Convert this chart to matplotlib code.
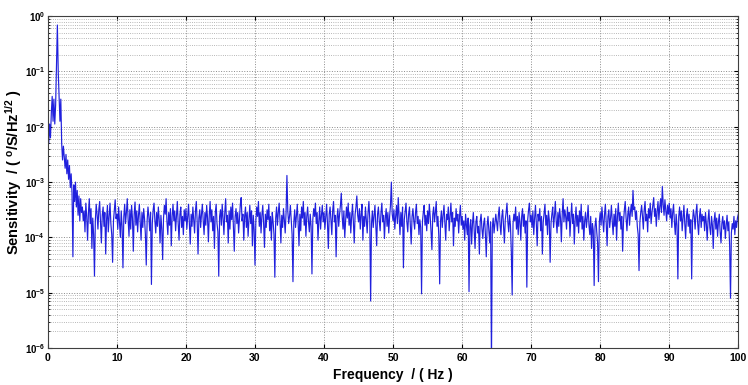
import numpy as np
import matplotlib
matplotlib.use("Agg")
import matplotlib.pyplot as plt
from matplotlib.ticker import FixedLocator, LogLocator, NullFormatter

plt.rcParams["font.family"] = ["Liberation Sans", "DejaVu Sans"]
plt.rcParams["mathtext.fontset"] = "custom"
plt.rcParams["mathtext.rm"] = "Liberation Sans:bold"
plt.rcParams["mathtext.bf"] = "Liberation Sans:bold"

# frequency span of the spectrum (Hz)
f_start, f_stop = 0.0, 100.0

# log10 of sensitivity, every 0.125 Hz (4 lines = 5 Hz)
sens_log10 = [
    # 0 - 5 Hz
    -2.00, -2.30, -1.95, -2.20, -1.75, -1.45, -1.90, -1.50, -1.95, -1.60,
    -0.90, -0.16, -1.00, -1.45, -1.90, -1.50, -2.30, -2.60, -2.35, -2.55,
    -2.75, -2.50, -2.85, -2.60, -2.95, -2.70, -3.10, -2.85, -3.20, -4.35,
    -3.05, -3.35, -3.00, -3.45, -3.15, -3.60, -3.25, -3.70, -3.30, -3.55,
    # 5 - 10 Hz
    -3.45, -3.70, -3.52, -3.90, -3.38, -3.62, -4.05, -3.55, -3.30, -3.75,
    -3.48, -4.20, -3.65, -3.95, -4.70, -3.70, -3.40, -3.58, -3.85, -3.50,
    -3.35, -3.72, -4.10, -3.60, -3.45, -3.80, -3.55, -4.30, -3.68, -3.42,
    -3.90, -3.62, -3.38, -3.75, -3.95, -4.45, -3.70, -3.50, -3.32, -3.66,
    # 10 - 15 Hz
    -3.58, -3.85, -3.45, -3.72, -4.00, -3.52, -3.80, -4.55, -3.62, -3.40,
    -3.75, -3.55, -3.30, -3.68, -3.98, -3.50, -3.85, -3.42, -3.65, -4.25,
    -3.58, -3.36, -3.78, -3.52, -3.90, -3.60, -3.40, -3.72, -4.05, -3.55,
    -3.82, -3.48, -3.66, -3.95, -4.50, -3.70, -3.45, -3.62, -3.88, -3.55,
    # 15 - 20 Hz
    -4.85, -3.75, -3.50, -3.38, -3.70, -3.92, -3.55, -3.80, -3.45, -3.68,
    -4.10, -3.60, -3.85, -4.40, -3.65, -3.42, -3.58, -3.30, -3.72, -3.95,
    -3.55, -3.78, -3.48, -4.15, -3.62, -3.40, -3.70, -3.52, -3.88, -3.60,
    -3.35, -3.75, -4.05, -3.58, -3.45, -3.82, -3.62, -3.95, -3.50, -3.70,
    # 20 - 25 Hz
    -3.48, -3.85, -3.62, -3.40, -3.75, -4.12, -3.58, -3.80, -3.45, -3.68,
    -3.92, -3.52, -3.35, -3.72, -4.30, -3.65, -3.50, -3.82, -3.58, -3.40,
    -3.70, -3.95, -3.55, -3.78, -3.42, -3.65, -4.08, -3.60, -3.35, -3.72,
    -3.50, -3.88, -3.62, -4.20, -3.55, -3.40, -3.75, -3.90, -4.70, -3.62,
    # 25 - 30 Hz
    -3.50, -3.78, -3.40, -3.65, -3.95, -3.55, -3.30, -3.72, -3.60, -4.10,
    -3.52, -3.85, -3.45, -3.68, -3.38, -3.80, -4.25, -3.62, -3.48, -3.75,
    -3.55, -3.92, -3.65, -3.40, -3.28, -3.70, -3.58, -4.05, -3.62, -3.45,
    -3.82, -3.55, -3.98, -3.68, -3.42, -3.75, -3.52, -4.15, -3.60, -3.85,
    # 30 - 35 Hz
    -4.50, -3.70, -3.45, -3.62, -3.35, -3.80, -3.55, -3.92, -3.60, -3.42,
    -3.75, -4.18, -3.58, -3.82, -3.50, -3.68, -3.40, -3.88, -3.62, -4.05,
    -3.55, -3.72, -3.95, -4.72, -3.65, -3.45, -3.78, -3.55, -3.38, -3.70,
    -4.10, -3.60, -3.82, -3.48, -3.68, -3.92, -3.55, -2.88, -3.52, -3.75,
    # 35 - 40 Hz
    -3.62, -3.42, -3.70, -3.95, -4.80, -3.72, -3.50, -3.82, -3.60, -3.40,
    -3.75, -4.15, -3.58, -3.88, -3.45, -3.65, -3.35, -3.78, -3.55, -3.98,
    -3.62, -3.45, -3.72, -3.90, -3.58, -3.80, -4.66, -3.68, -3.48, -3.62,
    -3.38, -3.75, -3.55, -4.05, -3.70, -3.45, -3.85, -3.60, -3.42, -3.72,
    # 40 - 45 Hz
    -3.55, -3.85, -3.62, -3.40, -3.75, -4.20, -3.58, -3.45, -3.68, -3.95,
    -3.52, -3.35, -3.72, -3.60, -4.35, -3.65, -3.48, -3.80, -3.58, -3.42,
    -3.20, -3.62, -3.85, -3.52, -4.00, -3.70, -3.45, -3.65, -3.38, -3.78,
    -3.55, -3.92, -3.62, -3.40, -3.72, -4.10, -3.58, -3.45, -3.25, -3.60,
    # 45 - 50 Hz
    -3.72, -3.48, -3.85, -3.58, -3.40, -4.05, -3.62, -3.80, -3.45, -3.70,
    -3.92, -3.55, -3.35, -3.68, -5.15, -3.75, -3.52, -3.82, -3.60, -3.42,
    -3.78, -4.15, -3.58, -3.45, -3.70, -3.88, -3.55, -3.38, -3.72, -3.60,
    -4.02, -3.65, -3.48, -3.80, -3.55, -3.92, -3.62, -3.42, -3.00, -3.58,
    # 50 - 55 Hz
    -3.70, -3.50, -3.85, -3.62, -3.42, -3.75, -3.28, -3.60, -3.95, -3.55,
    -3.80, -3.45, -4.55, -3.68, -3.52, -3.38, -3.72, -3.90, -3.58, -3.45,
    -3.78, -4.12, -3.62, -3.48, -3.70, -3.85, -3.55, -3.40, -3.75, -3.62,
    -3.95, -3.68, -3.82, -5.02, -3.72, -3.55, -3.42, -3.78, -3.60, -3.88,
    # 55 - 60 Hz
    -3.52, -3.75, -3.40, -3.62, -3.90, -4.22, -3.58, -3.45, -3.72, -3.55,
    -3.35, -3.80, -3.62, -3.98, -4.84, -3.70, -3.52, -3.82, -3.60, -3.42,
    -3.75, -4.05, -3.58, -3.68, -3.45, -3.88, -3.62, -3.38, -3.72, -3.55,
    -4.15, -3.65, -3.80, -3.48, -3.70, -3.58, -3.92, -3.62, -3.42, -3.78,
    # 60 - 65 Hz
    -3.62, -3.85, -3.70, -4.05, -3.58, -3.78, -3.95, -3.65, -4.98, -3.80,
    -3.68, -4.12, -3.75, -3.55, -3.88, -4.20, -3.72, -3.62, -3.92, -3.80,
    -4.30, -3.70, -3.58, -3.85, -4.02, -3.75, -3.65, -3.95, -4.35, -3.78,
    -3.62, -3.88, -4.10, -3.72, -6.30, -3.82, -3.65, -3.92, -3.75, -3.58,
    # 65 - 70 Hz
    -3.72, -3.88, -3.60, -3.45, -3.78, -3.95, -3.62, -3.50, -3.82, -4.10,
    -3.68, -3.55, -3.38, -3.72, -3.90, -3.60, -3.78, -4.25, -5.04, -3.75,
    -3.58, -3.70, -3.45, -3.85, -3.62, -3.95, -3.55, -3.72, -4.05, -3.62,
    -3.48, -3.80, -3.58, -3.92, -3.70, -4.90, -3.68, -3.50, -3.38, -3.72,
    # 70 - 75 Hz
    -3.60, -3.82, -3.52, -3.95, -3.65, -3.42, -3.75, -4.15, -3.58, -3.70,
    -3.48, -3.88, -3.62, -4.30, -3.72, -3.55, -3.40, -3.78, -3.60, -3.95,
    -3.52, -3.68, -4.45, -3.75, -3.58, -3.45, -3.82, -3.62, -3.35, -3.70,
    -3.92, -3.55, -3.80, -3.48, -3.65, -4.08, -3.58, -3.30, -3.72, -3.50,
    # 75 - 80 Hz
    -3.62, -3.85, -3.45, -3.70, -3.55, -3.98, -3.65, -3.38, -3.75, -3.58,
    -4.12, -3.68, -3.45, -3.80, -3.60, -3.92, -3.52, -3.72, -3.40, -3.85,
    -3.62, -4.05, -3.70, -3.55, -3.82, -3.65, -3.42, -3.78, -3.95, -3.62,
    -4.20, -3.75, -3.88, -4.87, -3.80, -3.65, -3.90, -4.10, -4.80, -3.72,
    # 80 - 85 Hz
    -3.55, -3.78, -3.45, -3.68, -3.90, -3.58, -3.40, -3.75, -4.15, -3.62,
    -3.50, -3.82, -3.65, -3.42, -3.72, -3.95, -3.58, -3.80, -3.48, -4.05,
    -3.62, -3.38, -3.70, -3.55, -3.85, -3.62, -4.25, -3.72, -3.50, -3.35,
    -3.65, -3.88, -3.58, -3.45, -3.78, -3.55, -3.40, -3.62, -3.15, -3.50,
    # 85 - 90 Hz
    -3.45, -3.68, -3.52, -3.80, -3.95, -4.60, -3.72, -3.55, -3.42, -3.62,
    -3.85, -3.50, -3.35, -3.70, -3.58, -3.90, -3.48, -3.65, -3.38, -3.75,
    -3.55, -3.42, -3.28, -3.62, -3.48, -3.80, -3.52, -3.35, -3.68, -3.45,
    -3.30, -3.55, -3.08, -3.40, -3.60, -3.32, -3.50, -3.70, -3.42, -3.58,
    # 90 - 95 Hz
    -3.38, -3.65, -3.48, -3.82, -3.55, -3.40, -3.72, -3.95, -3.58, -3.78,
    -4.75, -3.62, -3.45, -3.70, -3.52, -3.88, -3.65, -3.42, -3.75, -4.02,
    -3.60, -3.48, -3.80, -3.58, -3.92, -3.68, -4.75, -3.72, -3.50, -3.62,
    -3.85, -3.55, -3.40, -3.75, -3.95, -3.62, -3.48, -3.82, -3.58, -3.70,
    # 95 - 100 Hz
    -3.62, -3.88, -3.55, -3.75, -4.05, -3.68, -3.50, -3.82, -3.95, -3.62,
    -3.78, -4.20, -3.70, -3.55, -3.85, -3.65, -3.98, -3.72, -3.58, -3.90,
    -4.10, -3.75, -3.62, -3.85, -3.70, -4.02, -3.78, -3.60, -3.88, -3.72,
    -4.15, -5.10, -3.92, -3.75, -3.85, -3.62, -3.95, -3.70, -3.82, -3.65,
    -3.58,
]

x_ticks = [0, 10, 20, 30, 40, 50, 60, 70, 80, 90, 100]
y_decades = [-6, -5, -4, -3, -2, -1, 0]

freq = np.linspace(f_start, f_stop, len(sens_log10))
sens = 10.0 ** np.asarray(sens_log10)

fig = plt.figure(figsize=(7.48, 3.85), dpi=100)
ax = fig.add_axes([0.064, 0.096, 0.923, 0.862])

ax.plot(freq, sens, color="#2020dd", linewidth=0.85)

ax.set_yscale("log")
ax.set_xlim(f_start, f_stop)
ax.set_ylim(1e-6, 1e0)

ax.xaxis.set_major_locator(FixedLocator(x_ticks))
ax.set_xticklabels([str(t) for t in x_ticks], fontweight="bold", fontsize=7.5)
ax.yaxis.set_major_locator(FixedLocator([10.0 ** d for d in y_decades]))
ax.set_yticklabels([r"$\mathbf{10^{%d}}$" % d for d in y_decades], fontsize=7)
ax.yaxis.set_minor_locator(LogLocator(base=10, subs=np.arange(2, 10), numticks=20))
ax.yaxis.set_minor_formatter(NullFormatter())

ax.tick_params(which="both", direction="in", top=True, right=True, length=3)
ax.tick_params(which="minor", length=1.5)
ax.tick_params(axis="y", pad=2)

ax.grid(True, which="major", linestyle=":", color="#8a8a8a", linewidth=0.7)
ax.grid(True, which="minor", axis="y", linestyle=":", color="#a0a0a0", linewidth=0.6)
ax.set_axisbelow(True)

for s in ax.spines.values():
    s.set_color("#404040")
    s.set_linewidth(0.8)

ax.set_xlabel("Frequency  / ( Hz )", fontsize=10, fontweight="bold", labelpad=4)
ax.set_ylabel(r"Sensitivity  / ( $\mathbf{^o}$/S/Hz$\mathbf{^{1/2}}$ )",
              fontsize=10.5, fontweight="bold")
ax.yaxis.set_label_coords(-0.034, 0.53)

fig.savefig("out.png", dpi=100)
